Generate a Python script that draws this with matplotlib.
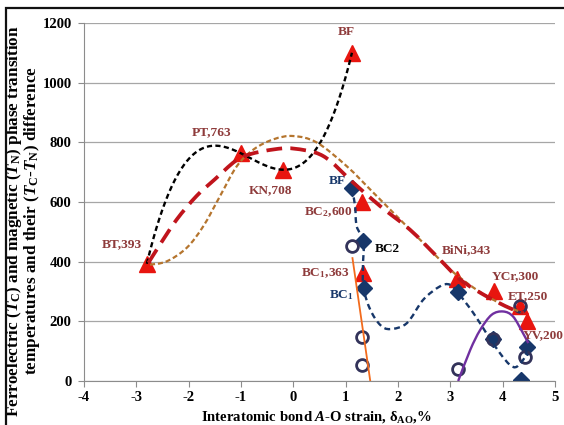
import numpy as np
import matplotlib.pyplot as plt
from matplotlib.path import Path
from matplotlib.patches import PathPatch, Rectangle

plt.rcParams['font.family'] = 'Liberation Serif'
plt.rcParams['font.weight'] = 'bold'
plt.rcParams['axes.labelweight'] = 'bold'
plt.rcParams['axes.unicode_minus'] = False
plt.rcParams['mathtext.fontset'] = 'custom'
plt.rcParams['mathtext.rm'] = 'Liberation Serif:bold'
plt.rcParams['mathtext.it'] = 'Liberation Serif:bold:italic'
plt.rcParams['mathtext.bf'] = 'Liberation Serif:bold'

# ferroelectric Tc (triangles)
tc_names = ['BT,393', 'PT,763', 'KN,708', 'BF', r'BC$_2$,600', r'BC$_1$,363',
            'BiNi,343', 'YCr,300', 'ET,250', 'YV,200']
tc_x = [-2.8, -1.0, -0.2, 1.12, 1.31, 1.34, 3.12, 3.83, 4.33, 4.46]
tc_y = [393, 763, 708, 1100, 600, 363, 343, 300, 250, 200]
tc_lab_x = [-3.28, -1.56, -0.43, 1.02, 0.67, 0.61, 3.31, 4.24, 4.49, 4.78]
tc_lab_y = [457, 833, 640, 1169, 567, 362, 437, 353, 283, 155]

# magnetic Tn (diamonds)
tn_x = [1.12, 1.34, 1.35, 3.15, 3.82, 4.36, 4.46]
tn_y = [648, 470, 312, 297, 140, 2, 115]

# Tc - Tn difference (open circles)
dt_x = [1.12, 1.31, 1.31, 3.15, 3.82, 4.33, 4.43]
dt_y = [451, 149, 54, 39, 140, 250, 82]

# trend curves
black_idx = [0, 1, 2, 3]
red_x = [-2.77, -2.55, -2.23, -1.85, -1.50, -1.11, -0.83, -0.38, 0.0, 0.57,
         1.15, 1.66, 2.23, 2.74, 3.19, 3.70, 4.14, 4.40]
red_y = [396, 457, 541, 620, 676, 737, 760, 776, 779, 754,
         664, 586, 507, 418, 340, 283, 244, 228]
brown_x = [-2.74, -2.42, -2.04, -1.72, -1.40, -1.08, -0.76, -0.38, 0.0, 0.45,
           1.02, 1.53, 2.04, 2.55, 3.0, 3.50, 4.01, 4.40]
brown_y = [390, 401, 446, 519, 620, 720, 776, 810, 821, 799,
           720, 631, 541, 451, 373, 306, 255, 228]
blue_x = [1.12, 1.18, 1.21, 1.34, 1.33, 1.34, 1.47, 1.66, 1.85, 2.17, 2.48,
          2.80, 2.99, 3.15, 3.44, 3.69, 3.95, 4.14, 4.27, 4.43, 4.46]
blue_y = [648, 586, 519, 468, 384, 312, 239, 188, 174, 194, 272,
          317, 323, 295, 228, 160, 93, 54, 48, 82, 112]
purple_x = [3.15, 3.38, 3.57, 3.79, 4.01, 4.20, 4.39, 4.49]
purple_y = [0, 104, 171, 222, 233, 216, 160, 127]
orange_x = [1.13, 1.47]
orange_y = [412, 0]


def smooth_patch(xs, ys, **kw):
    pts = np.column_stack([xs, ys]).astype(float)
    verts = [pts[0]]
    codes = [Path.MOVETO]
    n = len(pts)
    for i in range(n - 1):
        p0 = pts[max(i - 1, 0)]
        p1 = pts[i]
        p2 = pts[i + 1]
        p3 = pts[min(i + 2, n - 1)]
        verts += [p1 + (p2 - p0) / 6, p2 - (p3 - p1) / 6, p2]
        codes += [Path.CURVE4] * 3
    return PathPatch(Path(verts, codes), fill=False, **kw)


fig, ax = plt.subplots(figsize=(5.64, 4.25), dpi=100)
fig.subplots_adjust(left=0.149, right=0.984, bottom=0.1035, top=0.946)

# outer chart border (left and top edges visible)
fig.patches.append(Rectangle((6 / 564, -0.1), 1.2, 1.1 - 8 / 425, transform=fig.transFigure,
                             fill=False, edgecolor='#111111', linewidth=1.6))

ax.plot(tc_x, tc_y, linestyle='none', marker='^', ms=11.5, color='#E8150F', zorder=2)
ax.plot(tn_x, tn_y, linestyle='none', marker='D', ms=8.5, color='#17376A', zorder=2)
ax.plot(dt_x, dt_y, linestyle='none', marker='o', ms=8.5, mfc='none', mec='#33335A',
        mew=2, zorder=2.5)

bx = [tc_x[i] for i in black_idx]
by = [tc_y[i] for i in black_idx]
xx = np.linspace(min(bx), max(bx), 200)
ax.plot(xx, np.polyval(np.polyfit(bx, by, 3), xx), color='black', lw=1.7,
        dashes=(2.2, 1.4), zorder=3)

ax.add_patch(smooth_patch(brown_x, brown_y, edgecolor='#B5752E', lw=1.6,
                          linestyle=(0, (2.3, 1.3)), zorder=3))
ax.add_patch(smooth_patch(red_x, red_y, edgecolor='#C0141C', lw=2.7,
                          linestyle=(0, (4.2, 2.2)), zorder=3.1))
ax.add_patch(smooth_patch(blue_x, blue_y, edgecolor='#17376A', lw=1.7,
                          linestyle=(0, (2.5, 1.7)), zorder=3))
ax.add_patch(smooth_patch(purple_x, purple_y, edgecolor='#7030A0', lw=1.7, zorder=3))
ax.plot(orange_x, orange_y, color='#F26B1D', lw=1.3, zorder=3)

for name, lx, ly in zip(tc_names, tc_lab_x, tc_lab_y):
    ax.text(lx, ly, name, color='#8E3B3B', fontsize=9.6, ha='center', va='center',
            clip_on=False, zorder=5)
ax.text(0.84, 670, 'BF', color='#17376A', fontsize=9.6, ha='center', va='center')
ax.text(0.92, 289, r'BC$_1$', color='#17376A', fontsize=9.6, ha='center', va='center')
ax.text(1.80, 443, 'BC2', color='black', fontsize=9.6, ha='center', va='center')

ax.set_xlim(-4, 5)
ax.set_ylim(0, 1200)
ax.set_xticks(range(-4, 6))
ax.set_yticks(range(0, 1201, 200))
ax.grid(True, axis='y', color='#A6A6A6', lw=0.9)
ax.set_axisbelow(True)
for s in ['top', 'right']:
    ax.spines[s].set_visible(False)
for s in ['left', 'bottom']:
    ax.spines[s].set_color('#8C8C8C')
ax.tick_params(axis='both', colors='#8C8C8C', length=4, labelcolor='black', labelsize=10.5)
ax.tick_params(axis='y', pad=5)
ax.tick_params(axis='x', pad=3)

ax.set_ylabel('Ferroelectric ($T_{\\rm C}$) and magnetic ($T_{\\rm N}$) phase transition\n'
              'temperatures and their ($T_{\\rm C}$-$T_{\\rm N}$) difference',
              fontsize=12.3, fontweight='bold', linespacing=0.85, va='center')
ax.yaxis.set_label_coords(-0.13, 0.447)
ax.set_xlabel('Interatomic bond $A$-O strain, δ$_{\\rm AO}$,%', fontsize=10.6,
              fontweight='bold', va='center')
ax.xaxis.set_label_coords(0.493, -0.10)

plt.savefig('out.png')
